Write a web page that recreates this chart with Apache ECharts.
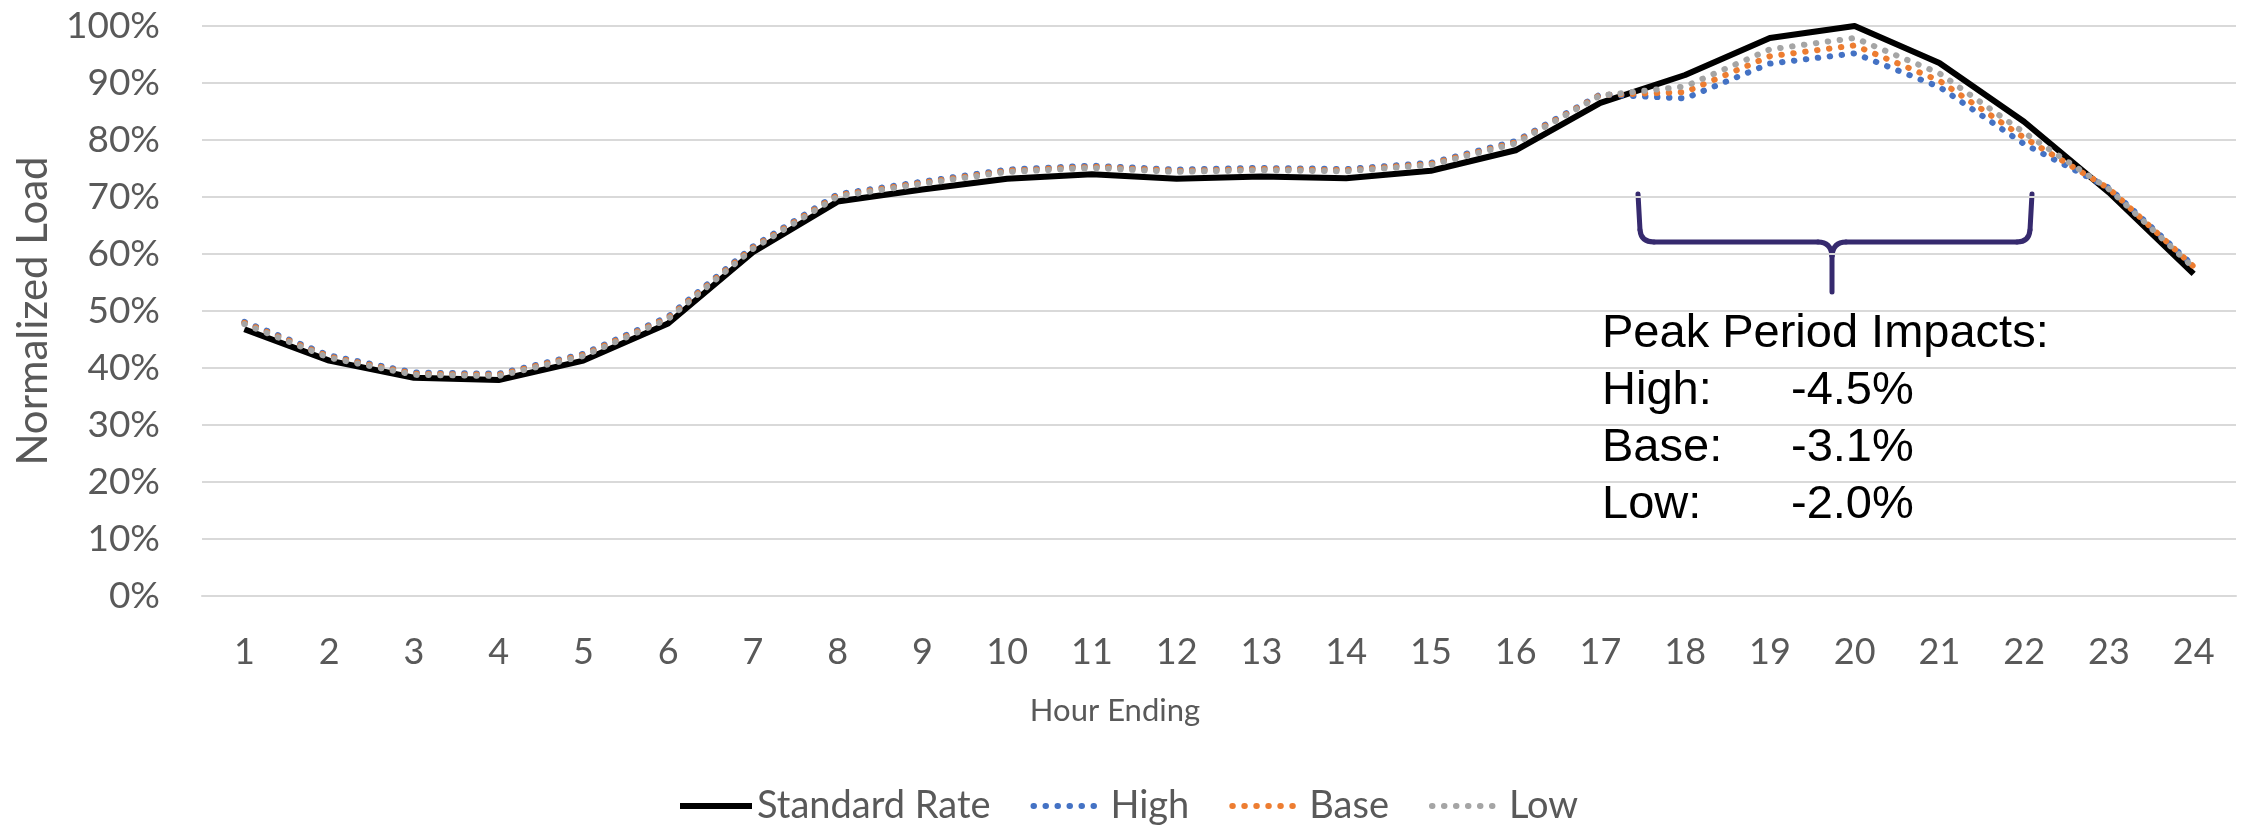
<!DOCTYPE html>
<html><head><meta charset="utf-8">
<script src="https://cdn.jsdelivr.net/npm/echarts@6/dist/echarts.min.js"></script>
<style>html,body{margin:0;padding:0;background:#fff}#c{width:2257px;height:825px}</style>
</head><body><div id="c"></div>
<script>
const hours = ['1','2','3','4','5','6','7','8','9','10','11','12','13','14','15','16','17','18','19','20','21','22','23','24'];
const standardRate = [46.8, 41.3, 38.3, 37.9, 41.3, 47.8, 60.3, 69.2, 71.3, 73.2, 74.0, 73.2, 73.6, 73.3, 74.6, 78.2, 86.5, 91.4, 97.9, 100.0, 93.5, 83.2, 70.8, 56.5];
const high = [48.1, 42.2, 39.2, 39.0, 42.5, 49.0, 61.3, 70.5, 72.7, 74.8, 75.5, 74.8, 75.1, 74.9, 76.0, 79.8, 88.0, 87.3, 93.4, 95.2, 89.3, 79.3, 71.6, 57.9];
const base = [47.9, 42.0, 39.0, 38.8, 42.3, 48.8, 61.1, 70.3, 72.5, 74.6, 75.3, 74.6, 74.9, 74.7, 75.8, 79.6, 87.9, 88.4, 94.7, 96.6, 90.4, 80.4, 71.5, 57.8];
const low = [47.7, 41.8, 38.8, 38.6, 42.1, 48.6, 60.9, 70.1, 72.3, 74.4, 75.1, 74.4, 74.7, 74.5, 75.6, 79.4, 87.8, 89.4, 95.9, 97.9, 91.7, 81.3, 71.4, 57.6];
const seriesNames = ['Standard Rate', 'High', 'Base', 'Low'];
const seriesColors = ['#000000', '#4472C4', '#ED7D31', '#A5A5A5'];
const impactTitle = 'Peak Period Impacts:';
const impactLabels = ['High:', 'Base:', 'Low:'];
const impactValues = ['-4.5%', '-3.1%', '-2.0%'];

const chart = echarts.init(document.getElementById('c'), null, {renderer: 'canvas'});
const axisFont = 'Lato, "Open Sans", sans-serif';
const dotted = (name, data, color) => ({
  name, type: 'line', data, showSymbol: false, symbol: 'none', smooth: false,
  lineStyle: {color, width: 6, type: [0.5, 11.5], cap: 'round'},
  itemStyle: {color}
});
const braceStyle = {stroke: '#362a6e', lineWidth: 5, fill: null, lineCap: 'round', lineJoin: 'round'};
const lineHeight = 57;
const annFont = '47px "Liberation Sans", Arial, sans-serif';
const graphics = [
  {type: 'polyline', shape: {points: [[1638, 194], [1640, 230]]}, style: braceStyle},
  {type: 'bezierCurve', shape: {x1: 1640, y1: 230, cpx1: 1641, cpy1: 242, x2: 1654, y2: 242}, style: braceStyle},
  {type: 'polyline', shape: {points: [[1654, 242], [1818, 242]]}, style: braceStyle},
  {type: 'bezierCurve', shape: {x1: 1818, y1: 242, cpx1: 1831, cpy1: 242, x2: 1832, y2: 256}, style: braceStyle},
  {type: 'polyline', shape: {points: [[1832, 256], [1832, 292]]}, style: braceStyle},
  {type: 'bezierCurve', shape: {x1: 1832, y1: 256, cpx1: 1833, cpy1: 242, x2: 1846, y2: 242}, style: braceStyle},
  {type: 'polyline', shape: {points: [[1846, 242], [2017, 242]]}, style: braceStyle},
  {type: 'bezierCurve', shape: {x1: 2017, y1: 242, cpx1: 2029, cpy1: 242, x2: 2030, y2: 230}, style: braceStyle},
  {type: 'polyline', shape: {points: [[2030, 230], [2032, 194]]}, style: braceStyle},
  {type: 'text', x: 1602, y: 334, style: {text: impactTitle, font: annFont, fill: '#000', textVerticalAlign: 'middle'}},
  {type: 'text', x: 1115, y: 711, style: {text: 'Hour Ending', font: '31px Lato, "Open Sans", sans-serif', fill: '#595959', textAlign: 'center', textVerticalAlign: 'middle'}}
];
impactLabels.forEach((l, i) => {
  graphics.push({type: 'text', x: 1602, y: 334 + lineHeight * (i + 1), style: {text: l, font: annFont, fill: '#000', textVerticalAlign: 'middle'}});
  graphics.push({type: 'text', x: 1791, y: 334 + lineHeight * (i + 1), style: {text: impactValues[i], font: annFont, fill: '#000', textVerticalAlign: 'middle'}});
});

chart.setOption({
  animation: false,
  backgroundColor: '#ffffff',
  grid: {left: 202, right: 21, top: 26, bottom: 229, containLabel: false},
  legend: {
    data: seriesNames, left: 672, top: 782, itemWidth: 72, itemHeight: 16, itemGap: 40,
    itemStyle: {opacity: 0},
    lineStyle: {width: 6},
    textStyle: {fontFamily: axisFont, fontSize: 38, color: '#595959'}
  },
  xAxis: {
    type: 'category', data: hours, boundaryGap: true,
    axisLine: {show: true, lineStyle: {color: '#d9d9d9', width: 2}},
    axisTick: {show: false},
    axisLabel: {fontFamily: axisFont, fontSize: 36, color: '#595959', margin: 38}
  },
  yAxis: {
    type: 'value', min: 0, max: 100, interval: 10,
    name: 'Normalized Load', nameLocation: 'middle', nameGap: 148,
    nameTextStyle: {fontFamily: axisFont, fontSize: 42, color: '#595959'},
    axisLine: {show: false}, axisTick: {show: false},
    axisLabel: {fontFamily: axisFont, fontSize: 37, color: '#595959', margin: 42, formatter: v => v + '%'},
    splitLine: {lineStyle: {color: '#d9d9d9', width: 2}}
  },
  series: [
    {name: seriesNames[0], type: 'line', data: standardRate, showSymbol: false, symbol: 'none',
     lineStyle: {color: seriesColors[0], width: 6, join: 'round'}, itemStyle: {color: seriesColors[0]}},
    dotted(seriesNames[1], high, seriesColors[1]),
    dotted(seriesNames[2], base, seriesColors[2]),
    dotted(seriesNames[3], low, seriesColors[3])
  ],
  graphic: graphics
});
</script>
</body></html>
